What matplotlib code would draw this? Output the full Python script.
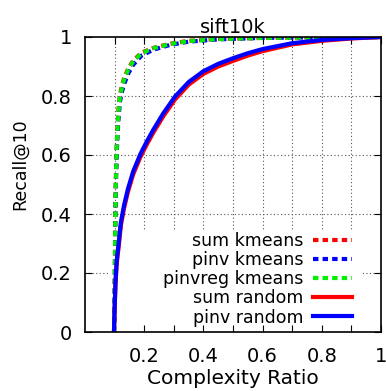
import matplotlib
matplotlib.use("Agg")
import matplotlib.pyplot as plt
from matplotlib.patches import Rectangle

plt.rcParams['font.family'] = ['DejaVu Sans']

# ---------------- data ----------------
title = "sift10k"
x_label = "Complexity Ratio"
y_label = "Recall@10"

complexity_kmeans = [0.098, 0.100, 0.101, 0.102, 0.104, 0.107, 0.110, 0.113, 0.118, 0.125,
                     0.132, 0.146, 0.163, 0.191, 0.231, 0.287, 0.349, 0.45, 0.60, 0.80, 1.00]
recall_sum_kmeans = [0.0, 0.10, 0.21, 0.36, 0.51, 0.63, 0.70, 0.752, 0.805, 0.836,
                     0.860, 0.893, 0.920, 0.947, 0.963, 0.977, 0.987, 0.993, 0.997, 0.999, 1.0]
recall_pinv_kmeans = [0.0, 0.10, 0.20, 0.34, 0.48, 0.60, 0.67, 0.720, 0.780, 0.815,
                      0.840, 0.876, 0.906, 0.937, 0.957, 0.973, 0.984, 0.992, 0.997, 0.999, 1.0]
recall_pinvreg_kmeans = [0.0, 0.10, 0.20, 0.35, 0.50, 0.62, 0.69, 0.742, 0.798, 0.830,
                         0.855, 0.889, 0.917, 0.945, 0.962, 0.976, 0.986, 0.993, 0.997, 0.999, 1.0]

complexity_random = [0.098, 0.100, 0.103, 0.107, 0.115, 0.121, 0.132, 0.145, 0.163, 0.188,
                     0.210, 0.231, 0.265, 0.304, 0.351, 0.40, 0.45, 0.50, 0.55, 0.60,
                     0.70, 0.80, 0.90, 1.00]
recall_sum_random = [0.0, 0.075, 0.16, 0.23, 0.30, 0.36, 0.42, 0.475, 0.535, 0.595,
                     0.638, 0.676, 0.732, 0.788, 0.839, 0.875, 0.900, 0.919, 0.937, 0.952,
                     0.975, 0.987, 0.995, 1.0]
recall_pinv_random = [0.0, 0.08, 0.17, 0.24, 0.314, 0.371, 0.43, 0.485, 0.545, 0.605,
                      0.648, 0.686, 0.742, 0.798, 0.848, 0.884, 0.909, 0.928, 0.945, 0.959,
                      0.979, 0.990, 0.996, 1.0]

series_labels = ["sum kmeans", "pinv kmeans", "pinvreg kmeans", "sum random", "pinv random"]

x_major = [0.2, 0.4, 0.6, 0.8, 1.0]
x_major_labels = ["0.2", "0.4", "0.6", "0.8", "1"]
x_minor = [0.1, 0.3, 0.5, 0.7, 0.9]
x_grid = [0.1, 0.2, 0.3, 0.4, 0.5, 0.6, 0.7, 0.8, 0.9]
y_major = [0.0, 0.2, 0.4, 0.6, 0.8, 1.0]
y_major_labels = ["0", "0.2", "0.4", "0.6", "0.8", "1"]
y_grid = [0.2, 0.4, 0.6, 0.8]

# ---------------- figure ----------------
fig = plt.figure(figsize=(3.86, 3.91), dpi=100)
ax = fig.add_axes([85 / 386, 59 / 391, 296 / 386, 295 / 391])

RED, BLUE, GREEN = '#ff0000', '#0000ff', '#00f000'
dot = (1.3, 1.0)
lw = 3.0

# grid (manual, under everything)
for gx in x_grid:
    ax.axvline(gx, color='#555555', lw=0.8, ls=(0, (1, 2.2)), zorder=0.5)
for gy in y_grid:
    ax.axhline(gy, color='#555555', lw=0.8, ls=(0, (1, 2.2)), zorder=0.5)

# opaque key box
ax.add_patch(Rectangle((0.084, 0.0), 0.855, 0.341, transform=ax.transAxes,
                       facecolor='white', edgecolor='none', zorder=1))

ax.plot(complexity_kmeans, recall_sum_kmeans, color=RED, lw=lw, dashes=dot,
        label=series_labels[0], zorder=2)
ax.plot(complexity_kmeans, recall_pinv_kmeans, color=BLUE, lw=lw, dashes=dot,
        label=series_labels[1], zorder=2)
ax.plot(complexity_kmeans, recall_pinvreg_kmeans, color=GREEN, lw=lw, dashes=dot,
        label=series_labels[2], zorder=2)
ax.plot(complexity_random, recall_sum_random, color=RED, lw=lw,
        label=series_labels[3], zorder=2)
ax.plot(complexity_random, recall_pinv_random, color=BLUE, lw=lw,
        label=series_labels[4], zorder=2)

ax.set_xlim(0, 1)
ax.set_ylim(0, 1)

ax.set_xticks(x_major)
ax.set_xticklabels(x_major_labels)
ax.set_xticks(x_minor, minor=True)
ax.set_yticks(y_major)
ax.set_yticklabels(y_major_labels)

ax.tick_params(axis='both', which='both', direction='in', length=5, width=0.8,
               top=True, right=True, labelsize=14)
ax.tick_params(axis='x', which='major', pad=11)
ax.tick_params(axis='y', which='major', pad=9.5)
for s in ax.spines.values():
    s.set_linewidth(1.2)

ax.set_title(title, fontsize=14, pad=3)
ax.set_xlabel(x_label, fontsize=14.5)
ax.xaxis.set_label_coords(0.5, -0.125)
ax.set_ylabel(y_label, fontsize=12.5)
ax.yaxis.set_label_coords(-0.19, 0.568)

leg = ax.legend(loc='upper right', bbox_to_anchor=(0.902, 0.340), frameon=False,
                fontsize=12.5, markerfirst=False, handlelength=2.25,
                handletextpad=0.55, labelspacing=0.07, borderpad=0, borderaxespad=0)
leg.set_zorder(1.5)
leg._legend_box._children[-1]._children[0].align = 'right'

fig.savefig('out.png', dpi=100)
